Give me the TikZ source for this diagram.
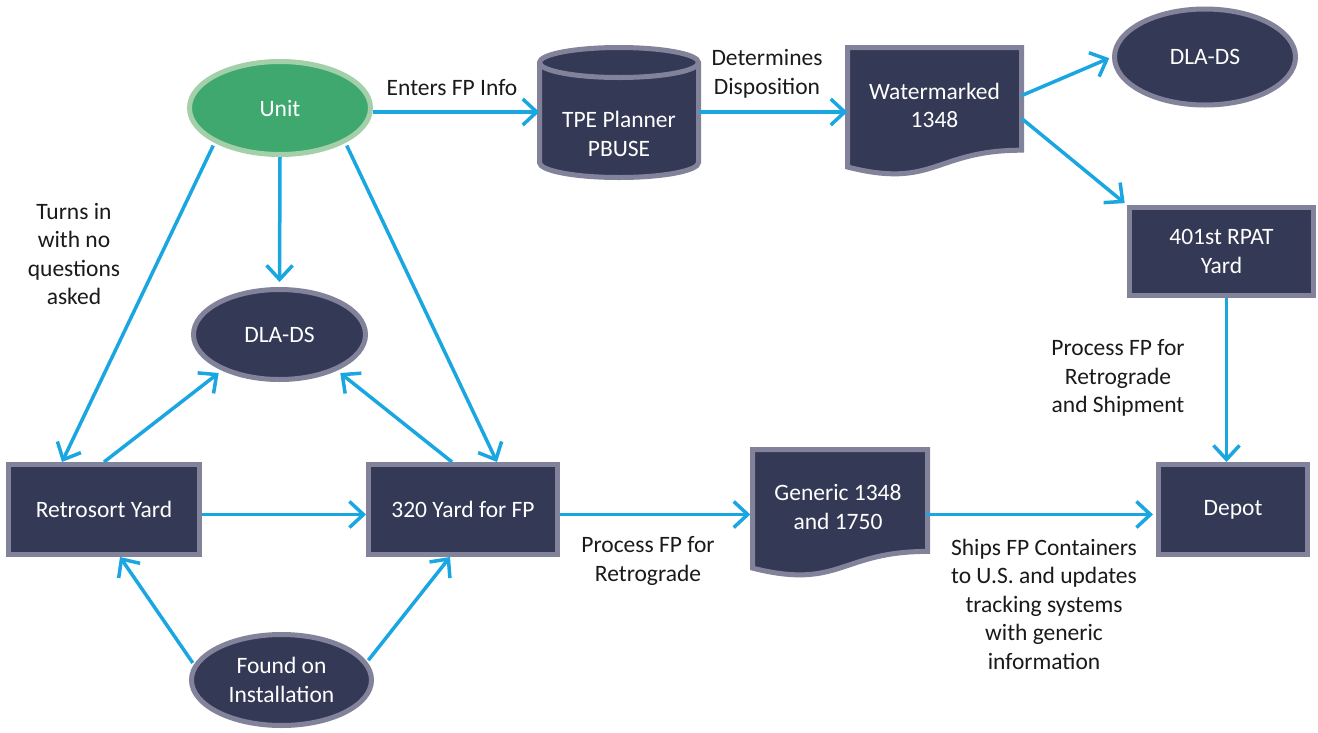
\documentclass[tikz,border=0pt]{standalone}
\usepackage{fontspec}
\setmainfont{Carlito}
\usetikzlibrary{shapes.geometric,arrows.meta}
\definecolor{navy}{HTML}{343A55}
\definecolor{bordc}{HTML}{82829A}
\definecolor{greenf}{HTML}{3FA86F}
\definecolor{greenb}{HTML}{A3D0A8}
\definecolor{cyanc}{HTML}{1AA7E1}
\definecolor{txt}{HTML}{1A1A1A}
\tikzset{
  nodetext/.style={font=\fontsize{23.5}{28.5}\selectfont, align=center},
  navybox/.style={nodetext, draw=bordc, fill=navy, line width=5pt, text=white, inner sep=0pt},
  navyell/.style={navybox, ellipse},
  greenell/.style={nodetext, ellipse, draw=greenb, fill=greenf, line width=5pt, text=white, inner sep=0pt},
  docshape/.style={draw=bordc, fill=navy, line width=5pt, line join=miter},
  intext/.style={nodetext, text=white, inner sep=0pt},
  lbl/.style={nodetext, text=txt, inner sep=0pt},
  arr/.style={draw=cyanc, line width=3.5pt, -{Straight Barb[length=14pt,width=26pt]}},
}
\begin{document}
\begin{tikzpicture}[x=1pt,y=-1pt]
\useasboundingbox (0,0) rectangle (1318,732);
\fill[white] (0,0) rectangle (1318,732);
% ---- shapes ----
\node[greenell, minimum width=181pt, minimum height=93pt] (unit) at (280,108) {Unit};
% cylinder
\draw[docshape] (539.5,62.5) -- (539.5,162.5)
  arc[start angle=180, end angle=360, x radius=79.5pt, y radius=15pt]
  -- (698.5,62.5)
  arc[start angle=0, end angle=180, x radius=79.5pt, y radius=15pt] -- cycle;
\draw[draw=bordc, line width=5pt] (539.5,62.5)
  arc[start angle=180, end angle=360, x radius=79.5pt, y radius=15pt];
\node[intext, minimum width=159pt, minimum height=100pt] (tpe) at (619,134) {TPE Planner\\PBUSE};
% watermarked document
\draw[docshape] (847.5,47.5) -- (1021.5,47.5) -- (1021.5,150.2)
  .. controls (934.5,150.2) and (934.5,189.2) .. (847.5,167.0) -- cycle;
\node[intext, minimum width=174pt, minimum height=110pt] (wm) at (934.5,105.5) {Watermarked\\1348};
\node[navyell, minimum width=181pt, minimum height=96pt] (dlatop) at (1205,57) {DLA-DS};
\node[navybox, minimum width=184pt, minimum height=88pt] (rpat) at (1221.5,251.5) {401st RPAT\\Yard};
\node[navyell, minimum width=172pt, minimum height=90pt] (dlamid) at (279.5,334.5) {DLA-DS};
\node[navybox, minimum width=191pt, minimum height=90pt] (retro) at (104,509.5) {Retrosort Yard};
\node[navybox, minimum width=189pt, minimum height=90pt] (y320) at (463,509.5) {320 Yard for FP};
% generic document
\draw[docshape] (752.5,449.5) -- (927.5,449.5) -- (927.5,551.4)
  .. controls (840,551.4) and (840,590.1) .. (752.5,568.1) -- cycle;
\node[intext, minimum width=175pt, minimum height=110pt] (gen) at (838,507) {Generic 1348\\and 1750};
\node[navybox, minimum width=149pt, minimum height=90pt] (depot) at (1233,509.5) {Depot};
\node[navyell, minimum width=180pt, minimum height=91pt] (found) at (281.5,680) {Found on\\Installation};
% ---- connectors ----
\draw[arr] ([yshift=-4pt]unit.east) -- ([yshift=-4pt]unit.east -| tpe.west);
\draw[arr] ([yshift=22pt]tpe.east) -- ([yshift=22pt]tpe.east -| wm.west);
\draw[arr, shorten >=3pt] ([yshift=10pt]wm.east) -- (dlatop.west);
\draw[arr, shorten >=3pt] ([yshift=-13pt]wm.east) -- (rpat.north west);
\draw[arr] ([xshift=5pt]rpat.south) -- ([xshift=5pt]rpat.south |- depot.north);
\draw[arr, shorten >=5pt] (unit.south) -- (dlamid.north);
\draw[arr, shorten <=3pt] (unit.208) -- ([xshift=-42pt]retro.north);
\draw[arr, shorten <=3pt] (unit.-28) -- ([xshift=34pt]y320.north);
\draw[arr, shorten >=4pt] (retro.north) -- (dlamid.212);
\draw[arr, shorten >=4pt] ([xshift=-11pt]y320.north) -- (dlamid.-32);
\draw[arr] ([yshift=-5pt]retro.east) -- ([yshift=-5pt]y320.west);
\draw[arr] ([yshift=-5pt]y320.east) -- ([yshift=-5pt]y320.east -| gen.west);
\draw[arr, shorten >=3pt] ([yshift=-5pt]depot.west -| gen.east) -- ([yshift=-5pt]depot.west);
\draw[arr, shorten <=2pt] (found.170) -- ([xshift=16pt]retro.south);
\draw[arr, shorten <=2pt] (found.12) -- ([xshift=-13pt]y320.south);
% ---- labels ----
\node[lbl] (l1) at (452,88) {Enters FP Info};
\node[lbl] (l2) at (767,74) {Determines\\Disposition};
\node[lbl] (l3) at (74,254) {Turns in\\with no\\questions\\asked};
\node[lbl] (l4) at (1118,378) {Process FP for\\Retrograde\\and Shipment};
\node[lbl] (l5) at (648,561) {Process FP for\\Retrograde};
\node[lbl] (l6) at (1044,604) {Ships FP Containers\\to U.S. and updates\\tracking systems\\with generic\\information};
\end{tikzpicture}
\end{document}
